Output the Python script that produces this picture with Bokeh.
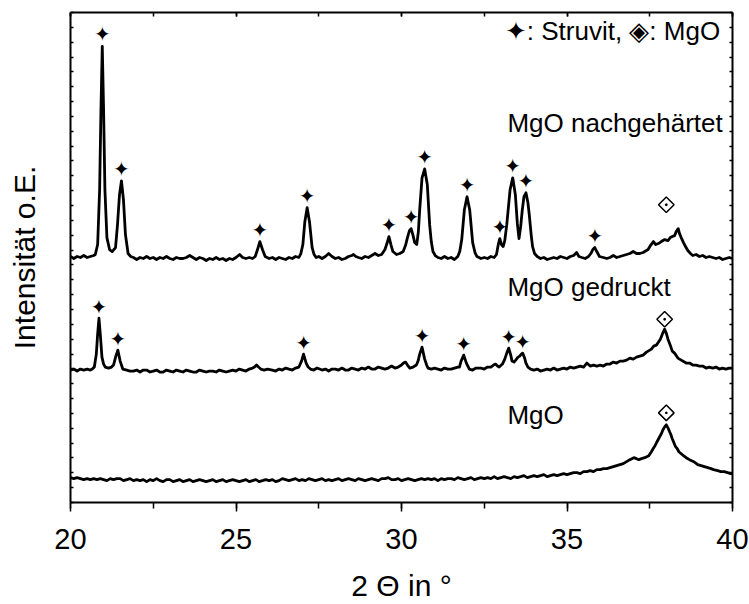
import numpy as np
from bokeh.plotting import figure
from bokeh.models import LinearAxis, SingleIntervalTicker, FixedTicker, Range1d, CustomJSTickFormatter
from bokeh.core.properties import value
from bokeh.embed import file_html
from bokeh.resources import INLINE

# ---------------- data: (2 theta, intensity a.u.), traces already vertically offset ----------------
nach_points = [
    (20.00, 247), (20.10, 245), (20.20, 247), (20.30, 246), (20.40, 248), (20.50, 246), (20.60, 247),
    (20.70, 248), (20.75, 249), (20.82, 259), (20.88, 314), (20.92, 394), (20.96, 458), (21.00, 394),
    (21.04, 314), (21.10, 266), (21.18, 254), (21.26, 252), (21.36, 256), (21.42, 279), (21.48, 309),
    (21.54, 323), (21.60, 304), (21.66, 269), (21.74, 250), (21.82, 247), (21.90, 246), (22.00, 244),
    (22.10, 246), (22.20, 245), (22.30, 247), (22.40, 245), (22.50, 246), (22.60, 244), (22.70, 246),
    (22.80, 245), (22.90, 247), (23.00, 245), (23.10, 244), (23.20, 246), (23.30, 245), (23.40, 245),
    (23.50, 246), (23.60, 248), (23.70, 246), (23.80, 244), (23.90, 246), (24.00, 245), (24.10, 243),
    (24.20, 245), (24.30, 244), (24.40, 246), (24.50, 244), (24.60, 245), (24.70, 243), (24.80, 245),
    (24.90, 244), (25.00, 246), (25.11, 249), (25.20, 246), (25.30, 245), (25.40, 246), (25.50, 245),
    (25.58, 247), (25.65, 254), (25.72, 262), (25.80, 254), (25.88, 247), (26.00, 245), (26.10, 246),
    (26.20, 244), (26.30, 246), (26.40, 245), (26.50, 244), (26.60, 246), (26.70, 245), (26.80, 247),
    (26.90, 246), (26.96, 250), (27.02, 259), (27.08, 282), (27.15, 296), (27.22, 282), (27.30, 256),
    (27.36, 249), (27.42, 246), (27.50, 247), (27.60, 245), (27.70, 247), (27.80, 250), (27.90, 247),
    (28.00, 245), (28.10, 246), (28.20, 244), (28.30, 245), (28.40, 247), (28.50, 248), (28.55, 249),
    (28.62, 247), (28.70, 246), (28.80, 245), (28.90, 247), (29.00, 246), (29.10, 248), (29.20, 250),
    (29.30, 248), (29.40, 249), (29.50, 254), (29.56, 260), (29.62, 267), (29.68, 259), (29.74, 252),
    (29.85, 249), (29.95, 250), (30.05, 252), (30.12, 258), (30.18, 266), (30.24, 273), (30.29, 275),
    (30.35, 268), (30.40, 261), (30.46, 259), (30.51, 272), (30.55, 294), (30.62, 326), (30.70, 335),
    (30.78, 319), (30.85, 279), (30.90, 262), (30.95, 252), (31.02, 248), (31.10, 246), (31.20, 245),
    (31.30, 247), (31.40, 245), (31.50, 246), (31.60, 244), (31.70, 247), (31.76, 252), (31.82, 264),
    (31.90, 294), (31.98, 307), (32.06, 294), (32.15, 261), (32.22, 251), (32.28, 247), (32.40, 245),
    (32.50, 246), (32.60, 245), (32.70, 247), (32.80, 246), (32.87, 249), (32.93, 260), (32.97, 265),
    (33.02, 259), (33.07, 257), (33.12, 263), (33.18, 279), (33.28, 314), (33.36, 326), (33.44, 309),
    (33.50, 280), (33.55, 265), (33.60, 277), (33.65, 294), (33.70, 307), (33.76, 311), (33.82, 301),
    (33.86, 289), (33.92, 268), (33.96, 257), (34.02, 250), (34.10, 247), (34.20, 245), (34.30, 246),
    (34.40, 244), (34.50, 245), (34.60, 246), (34.70, 245), (34.80, 247), (34.90, 246), (35.00, 245),
    (35.10, 247), (35.20, 248), (35.29, 251), (35.36, 247), (35.45, 246), (35.55, 245), (35.65, 247),
    (35.72, 250), (35.78, 254), (35.84, 256), (35.90, 252), (35.98, 247), (36.10, 246), (36.20, 245),
    (36.30, 246), (36.40, 248), (36.50, 246), (36.60, 247), (36.70, 248), (36.80, 249), (36.90, 250),
    (37.00, 252), (37.10, 250), (37.20, 250), (37.30, 251), (37.40, 253), (37.45, 254), (37.52, 258),
    (37.61, 262), (37.68, 259), (37.76, 260), (37.85, 262), (37.95, 264), (38.05, 263), (38.12, 266),
    (38.18, 267), (38.25, 268), (38.30, 272), (38.36, 275), (38.40, 270), (38.45, 266), (38.52, 261),
    (38.58, 257), (38.65, 253), (38.73, 250), (38.80, 248), (38.90, 249), (39.00, 247), (39.10, 248),
    (39.20, 246), (39.30, 247), (39.40, 246), (39.50, 245), (39.60, 246), (39.70, 244), (39.80, 245),
    (39.90, 246), (40.00, 245)]

ged_points = [
    (20.00, 133), (20.10, 134), (20.20, 132), (20.30, 134), (20.40, 133), (20.50, 134), (20.60, 133),
    (20.66, 134), (20.72, 136), (20.78, 149), (20.82, 169), (20.86, 185), (20.90, 169), (20.95, 146),
    (21.00, 139), (21.05, 136), (21.15, 135), (21.24, 136), (21.30, 138), (21.37, 147), (21.43, 153),
    (21.50, 142), (21.58, 134), (21.70, 133), (21.80, 132), (21.90, 132), (22.00, 133), (22.10, 131),
    (22.20, 133), (22.30, 133), (22.40, 131), (22.50, 132), (22.60, 133), (22.70, 131), (22.80, 131),
    (22.90, 133), (23.00, 132), (23.10, 131), (23.20, 133), (23.30, 132), (23.40, 131), (23.50, 133),
    (23.60, 132), (23.70, 131), (23.80, 131), (23.90, 133), (24.00, 132), (24.10, 131), (24.20, 132),
    (24.30, 132), (24.40, 131), (24.50, 133), (24.60, 132), (24.70, 131), (24.80, 132), (24.90, 133),
    (25.00, 132), (25.10, 134), (25.20, 133), (25.30, 132), (25.40, 134), (25.50, 135), (25.56, 136),
    (25.62, 138), (25.68, 136), (25.75, 134), (25.85, 133), (25.95, 134), (26.10, 133), (26.20, 132),
    (26.30, 134), (26.40, 133), (26.50, 135), (26.60, 134), (26.70, 133), (26.80, 135), (26.90, 136),
    (26.98, 142), (27.04, 149), (27.12, 140), (27.18, 136), (27.25, 134), (27.35, 133), (27.45, 135),
    (27.60, 133), (27.70, 134), (27.80, 132), (27.90, 134), (28.00, 134), (28.10, 133), (28.20, 135),
    (28.30, 133), (28.40, 133), (28.50, 135), (28.60, 134), (28.70, 133), (28.80, 135), (28.90, 134),
    (29.00, 136), (29.10, 134), (29.20, 134), (29.30, 136), (29.40, 135), (29.50, 134), (29.60, 135),
    (29.70, 137), (29.80, 135), (29.90, 136), (30.00, 138), (30.06, 140), (30.12, 141), (30.18, 138),
    (30.25, 135), (30.35, 136), (30.45, 138), (30.50, 142), (30.55, 149), (30.62, 156), (30.70, 144),
    (30.76, 138), (30.80, 135), (30.90, 134), (31.00, 135), (31.10, 134), (31.20, 133), (31.30, 135),
    (31.40, 134), (31.50, 134), (31.60, 135), (31.70, 136), (31.75, 136), (31.80, 142), (31.88, 148),
    (31.96, 140), (32.05, 134), (32.15, 133), (32.25, 135), (32.40, 135), (32.50, 134), (32.60, 136),
    (32.70, 136), (32.78, 138), (32.84, 139), (32.90, 137), (32.95, 136), (33.05, 139), (33.12, 144),
    (33.18, 150), (33.24, 155), (33.30, 148), (33.34, 142), (33.40, 141), (33.45, 143), (33.52, 146),
    (33.57, 147), (33.62, 149), (33.66, 150), (33.72, 145), (33.76, 140), (33.82, 136), (33.90, 134),
    (34.00, 133), (34.10, 134), (34.20, 132), (34.30, 133), (34.40, 134), (34.50, 133), (34.60, 135),
    (34.70, 133), (34.80, 134), (34.90, 135), (35.00, 134), (35.10, 136), (35.20, 135), (35.30, 136),
    (35.40, 137), (35.50, 136), (35.60, 140), (35.70, 137), (35.80, 138), (35.90, 137), (36.00, 138),
    (36.10, 137), (36.20, 139), (36.30, 139), (36.40, 141), (36.50, 140), (36.60, 142), (36.70, 142),
    (36.80, 143), (36.90, 145), (37.00, 144), (37.10, 146), (37.20, 147), (37.30, 148), (37.40, 151),
    (37.50, 153), (37.55, 154), (37.62, 157), (37.70, 158), (37.76, 161), (37.82, 164), (37.88, 169),
    (37.95, 174), (38.00, 170), (38.05, 164), (38.12, 158), (38.18, 152), (38.25, 150), (38.35, 145),
    (38.45, 143), (38.60, 140), (38.70, 140), (38.80, 138), (38.90, 138), (39.00, 137), (39.10, 137),
    (39.20, 135), (39.30, 136), (39.40, 135), (39.50, 136), (39.60, 134), (39.70, 135), (39.80, 134),
    (39.90, 135), (40.00, 135)]

mgo_points = [
    (20.00, 25), (20.10, 24), (20.20, 25), (20.30, 24), (20.40, 23), (20.50, 24), (20.60, 23),
    (20.70, 24), (20.80, 23), (20.90, 24), (21.00, 23), (21.10, 22), (21.20, 24), (21.30, 23),
    (21.40, 24), (21.50, 24), (21.60, 22), (21.70, 23), (21.80, 24), (21.90, 22), (22.00, 23),
    (22.10, 22), (22.20, 23), (22.30, 21), (22.40, 23), (22.50, 22), (22.60, 24), (22.70, 22),
    (22.80, 21), (22.90, 23), (23.00, 23), (23.10, 21), (23.20, 22), (23.30, 23), (23.40, 21),
    (23.50, 22), (23.60, 23), (23.70, 21), (23.80, 22), (23.90, 23), (24.00, 22), (24.10, 21),
    (24.20, 22), (24.30, 23), (24.40, 21), (24.50, 22), (24.60, 23), (24.70, 21), (24.80, 22),
    (24.90, 23), (25.00, 22), (25.10, 21), (25.20, 22), (25.30, 23), (25.40, 21), (25.50, 22),
    (25.60, 23), (25.70, 21), (25.80, 22), (25.90, 23), (26.00, 22), (26.10, 23), (26.20, 21),
    (26.30, 22), (26.40, 24), (26.50, 23), (26.60, 22), (26.70, 23), (26.80, 24), (26.90, 22),
    (27.00, 23), (27.10, 22), (27.20, 24), (27.30, 23), (27.40, 22), (27.50, 23), (27.60, 24),
    (27.70, 22), (27.80, 23), (27.90, 22), (28.00, 23), (28.10, 24), (28.20, 22), (28.30, 23),
    (28.40, 24), (28.50, 23), (28.60, 22), (28.70, 24), (28.80, 23), (28.90, 22), (29.00, 23),
    (29.10, 24), (29.20, 23), (29.30, 22), (29.40, 24), (29.50, 24), (29.60, 25), (29.70, 23),
    (29.80, 23), (29.90, 24), (30.00, 22), (30.10, 23), (30.20, 24), (30.30, 23), (30.40, 22),
    (30.50, 23), (30.60, 24), (30.70, 23), (30.80, 24), (30.90, 23), (31.00, 24), (31.10, 22),
    (31.20, 24), (31.30, 23), (31.40, 24), (31.50, 24), (31.60, 23), (31.70, 25), (31.80, 24),
    (31.90, 23), (32.00, 24), (32.10, 25), (32.20, 23), (32.30, 24), (32.40, 25), (32.50, 24),
    (32.60, 25), (32.70, 24), (32.80, 26), (32.90, 24), (33.00, 25), (33.10, 26), (33.20, 25),
    (33.30, 24), (33.40, 26), (33.50, 25), (33.60, 26), (33.70, 27), (33.80, 25), (33.90, 26),
    (34.00, 27), (34.10, 26), (34.20, 27), (34.30, 28), (34.40, 26), (34.50, 27), (34.60, 28),
    (34.70, 27), (34.80, 28), (34.90, 29), (35.00, 28), (35.10, 29), (35.20, 30), (35.30, 30),
    (35.40, 29), (35.50, 31), (35.60, 31), (35.70, 32), (35.80, 31), (35.90, 33), (36.00, 33),
    (36.10, 34), (36.20, 34), (36.30, 35), (36.40, 36), (36.50, 37), (36.60, 38), (36.70, 39),
    (36.80, 41), (36.90, 43), (37.02, 45), (37.10, 44), (37.17, 43), (37.25, 44), (37.35, 45),
    (37.47, 47), (37.55, 51), (37.60, 54), (37.66, 57), (37.72, 61), (37.80, 66), (37.85, 69),
    (37.90, 73), (37.95, 76), (38.00, 78), (38.05, 75), (38.10, 71), (38.14, 68), (38.18, 64),
    (38.23, 60), (38.28, 56), (38.33, 54), (38.38, 51), (38.45, 49), (38.52, 47), (38.60, 45),
    (38.70, 43), (38.83, 41), (38.95, 38), (39.05, 37), (39.15, 36), (39.25, 35), (39.35, 34),
    (39.43, 33), (39.55, 32), (39.65, 31), (39.75, 31), (39.85, 30), (39.95, 29), (40.00, 29)]

tt_nach = [a for a, b in nach_points]
int_nach = [b for a, b in nach_points]
tt_ged = [a for a, b in ged_points]
int_ged = [b for a, b in ged_points]
tt_mgo = [a for a, b in mgo_points]
int_mgo = [b for a, b in mgo_points]

# Struvit reflections (position, peak intensity)
struvit_nach_x = [20.96, 21.54, 25.72, 27.15, 29.62, 30.29, 30.70, 31.98, 32.97, 33.36, 33.76, 35.84]
struvit_nach_y = [458, 323, 262, 296, 267, 275, 335, 307, 265, 326, 311, 256]
struvit_ged_x = [20.86, 21.43, 27.04, 30.62, 31.88, 33.24, 33.66]
struvit_ged_y = [185, 153, 149, 156, 148, 155, 150]
# MgO reflection markers (position, marker level)
mgo_x = [38.00, 37.95, 38.00]
mgo_y = [299, 184, 90]

labels = ["MgO nachgehärtet", "MgO gedruckt", "MgO"]
labels_y = [381, 216, 88]
legend_text = "✦: Struvit, ◈: MgO"

# ---------------- figure ----------------
FONT = "Liberation Sans"
p = figure(width=749, height=604, x_range=Range1d(20, 40), y_range=Range1d(0, 492),
           output_backend="svg", toolbar_location=None,
           min_border_left=70, min_border_right=17, min_border_top=12, min_border_bottom=100)
p.outline_line_color = None
p.grid.visible = False
p.background_fill_color = "white"
p.border_fill_color = "white"

for xs, ys in [(tt_nach, int_nach), (tt_ged, int_ged), (tt_mgo, int_mgo)]:
    p.line(xs, ys, line_color="black", line_width=2.8, line_join="round")

star_font = value("DejaVu Sans")
p.text(x=struvit_nach_x, y=struvit_nach_y, text=["✦"] * len(struvit_nach_x), y_offset=-12,
       text_align="center", text_baseline="middle", text_font=star_font, text_font_size="20px",
       text_color="black")
p.text(x=struvit_ged_x, y=struvit_ged_y, text=["✦"] * len(struvit_ged_x), y_offset=-11,
       text_align="center", text_baseline="middle", text_font=star_font, text_font_size="20px",
       text_color="black")
p.scatter(x=mgo_x, y=mgo_y, marker="square_dot", angle=np.pi / 4, size=11,
          fill_color="white", line_color="black", line_width=1.5)

p.text(x=[33.2] * 3, y=labels_y, text=labels, text_font=value(FONT), text_font_size="26px",
       text_align="left", text_baseline="alphabetic", text_color="black")
p.text(x=[33.12], y=[473], text=[legend_text], text_font=value(FONT), text_font_size="26px",
       text_align="left", text_baseline="alphabetic", text_color="black")

# ---------------- axes ----------------
xt = SingleIntervalTicker(interval=5, num_minor_ticks=2)
yt = FixedTicker(ticks=list(np.linspace(0, 492, 34)), minor_ticks=[])
blank = CustomJSTickFormatter(code="return ''")

xa = p.xaxis[0]
xa.ticker = xt
xa.axis_label = "2 Θ in °"
xa.axis_label_text_font = FONT
xa.axis_label_text_font_size = "30px"
xa.axis_label_text_font_style = "normal"
xa.axis_label_text_color = "black"
xa.axis_label_standoff = 17
xa.major_label_text_font = FONT
xa.major_label_text_font_size = "29px"
xa.major_label_text_color = "black"
xa.major_label_standoff = 17
xa.major_tick_out = 9
xa.major_tick_in = 0
xa.minor_tick_out = 6
xa.minor_tick_in = 0

ya = p.yaxis[0]
ya.ticker = yt
ya.formatter = blank
ya.axis_label = "Intensität o.E."
ya.axis_label_text_font = FONT
ya.axis_label_text_font_size = "30px"
ya.axis_label_text_font_style = "normal"
ya.axis_label_text_color = "black"
ya.axis_label_standoff = 30
ya.major_label_text_font_size = "0px"
ya.major_label_standoff = 0
ya.major_tick_in = 3
ya.major_tick_out = 0
ya.minor_tick_line_color = None

top = LinearAxis(ticker=xt, formatter=blank, major_label_text_font_size="0px",
                 major_label_standoff=0, major_tick_in=4, major_tick_out=0,
                 minor_tick_in=4, minor_tick_out=0)
right = LinearAxis(ticker=yt, formatter=blank, major_label_text_font_size="0px",
                   major_label_standoff=0, major_tick_in=3, major_tick_out=0,
                   minor_tick_line_color=None)
p.add_layout(top, "above")
p.add_layout(right, "right")

for ax in [xa, ya, top, right]:
    ax.axis_line_width = 2
    ax.axis_line_color = "black"
    ax.major_tick_line_width = 1.5
    ax.major_tick_line_color = "black"
    ax.minor_tick_line_width = 1.5

open("out.html", "w").write(file_html(p, INLINE))
